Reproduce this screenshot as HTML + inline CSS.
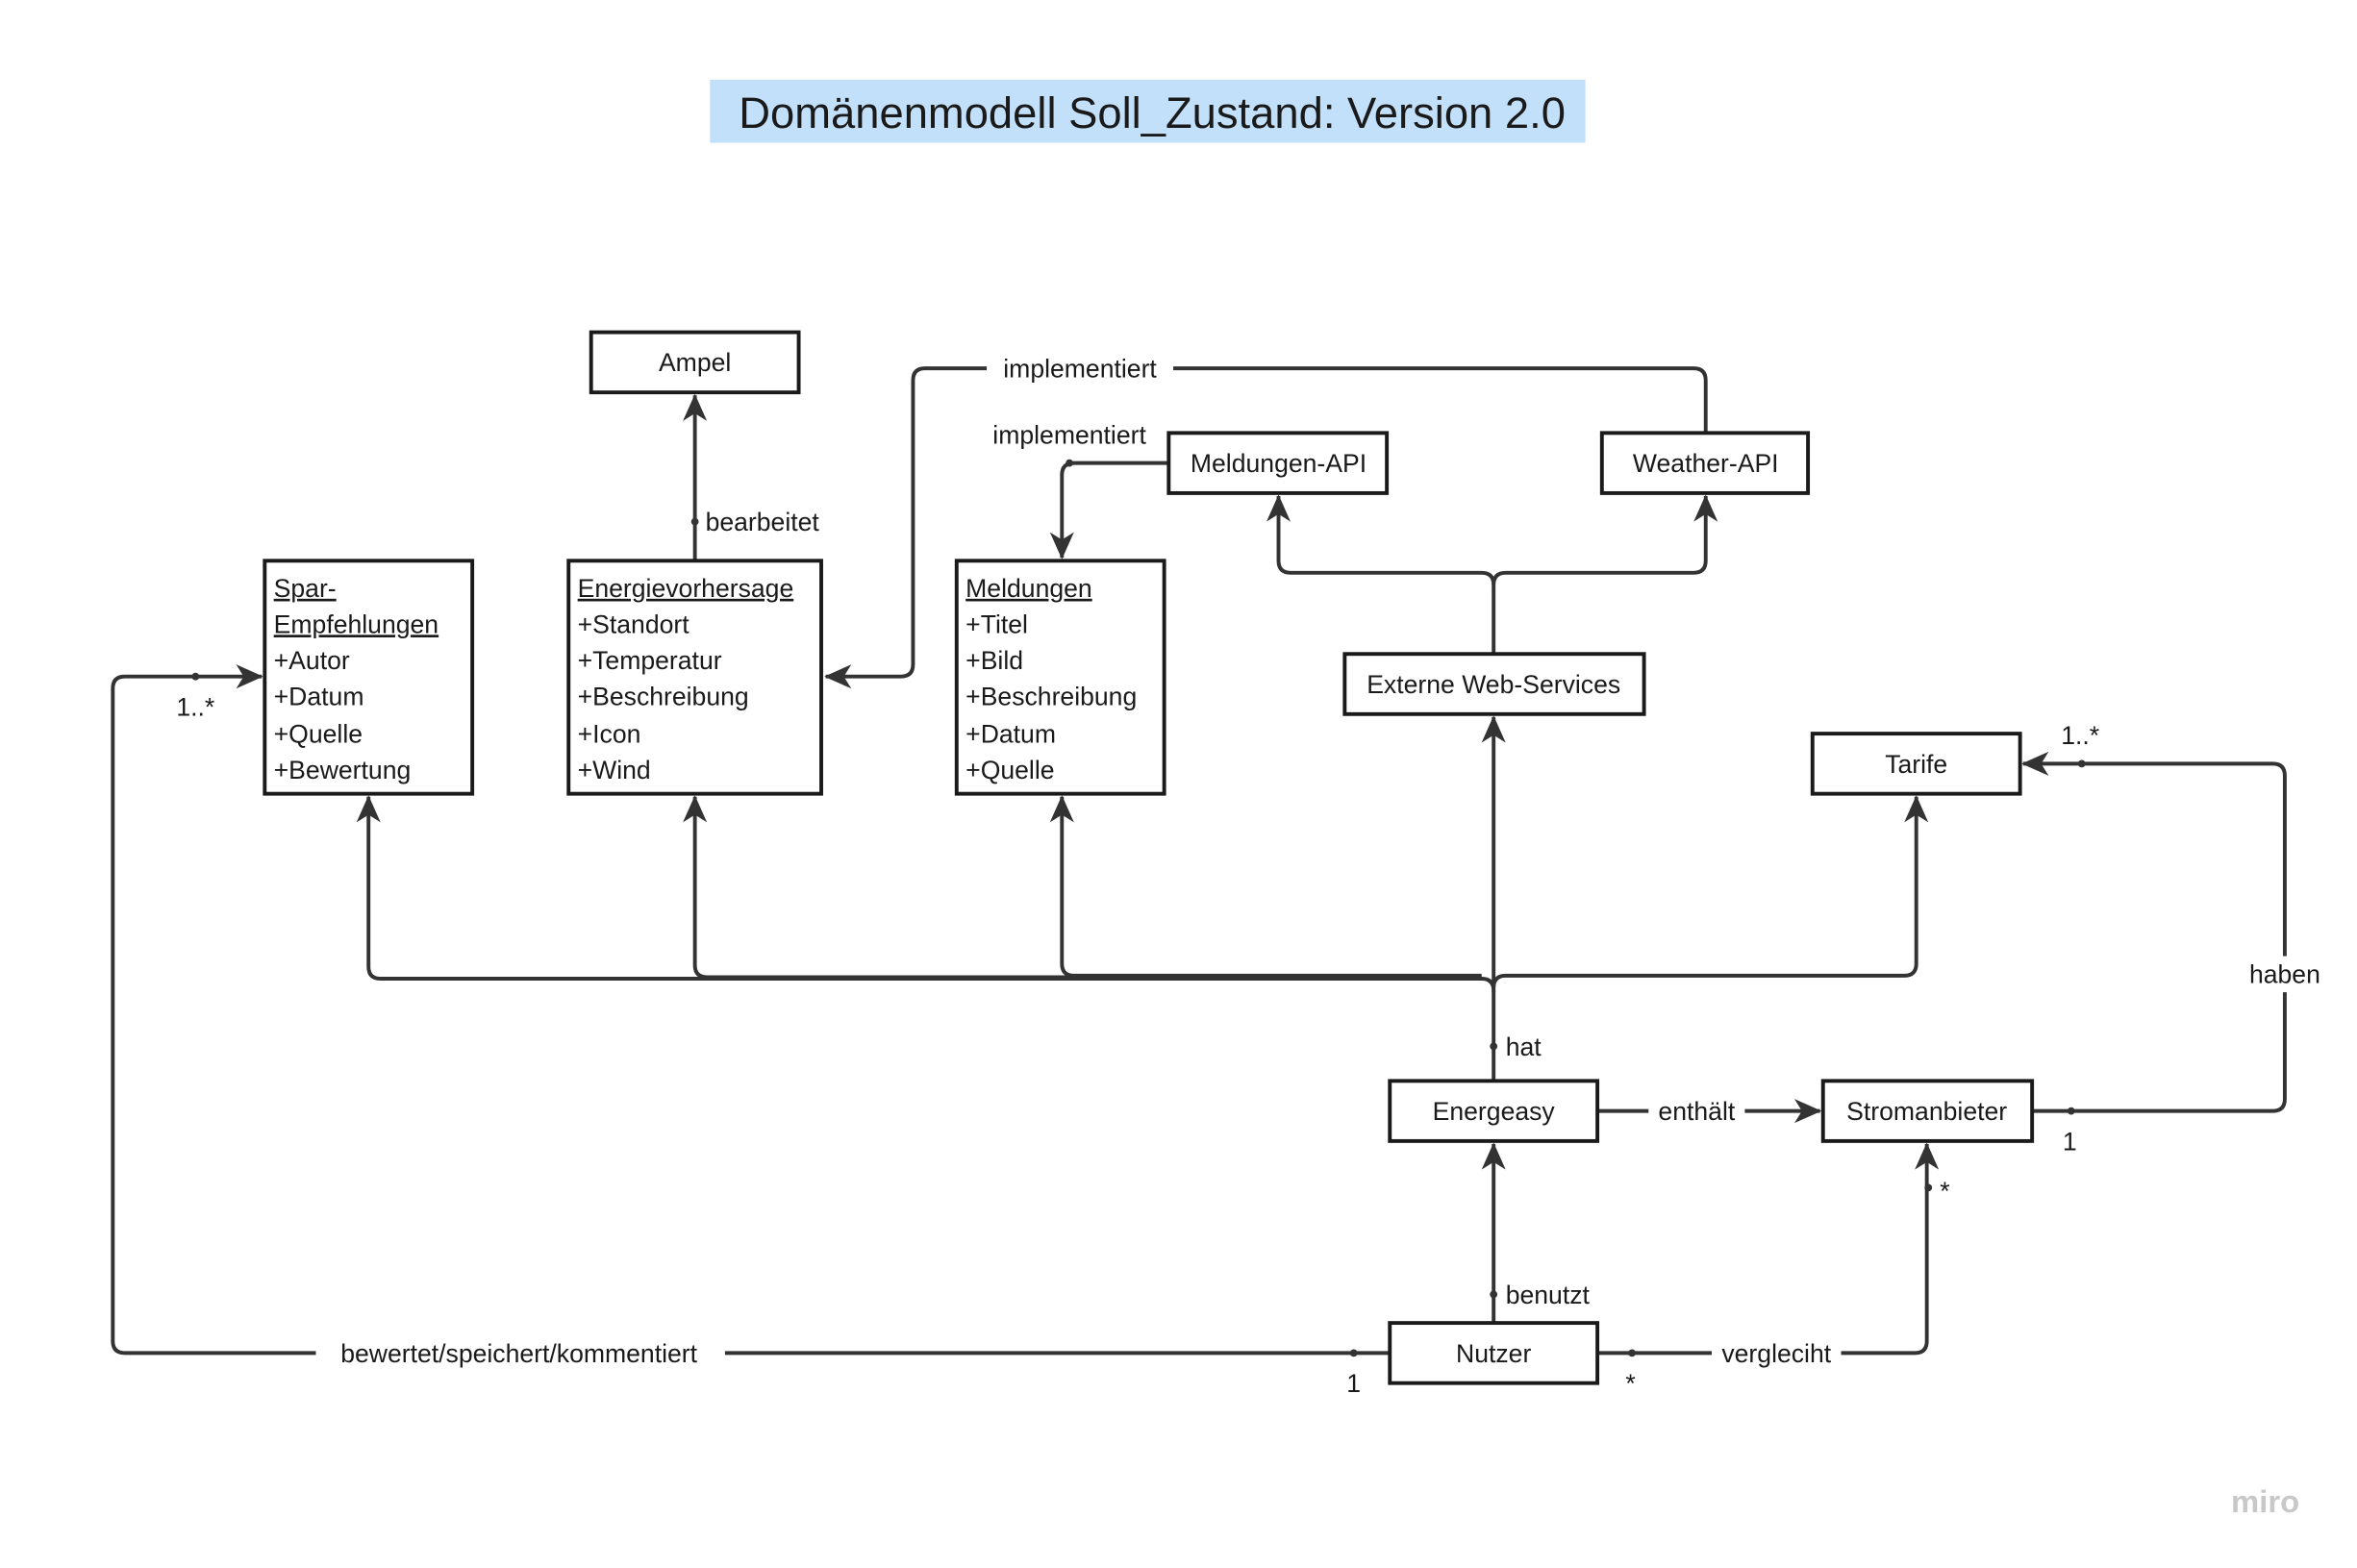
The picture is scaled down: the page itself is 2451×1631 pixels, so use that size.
<!DOCTYPE html>
<html><head><meta charset="utf-8"><style>
html,body{margin:0;padding:0;background:#fff;}
svg{display:block;}
text{font-family:"Liberation Sans",sans-serif;fill:#1a1a1a;}
</style></head><body>
<svg width="2451" height="1631" viewBox="0 0 1567 1043" preserveAspectRatio="none" xmlns="http://www.w3.org/2000/svg">
<defs>
<marker id="a" markerUnits="userSpaceOnUse" markerWidth="18" markerHeight="18" refX="17" refY="9" orient="auto">
<path d="M0,1 L18,9 L0,17 L5,9 z" fill="#333"/>
</marker>
</defs>
<rect width="1567" height="1043" fill="#fff"/>
<rect x="472" y="53" width="582" height="42" fill="#c3e0fb"/>
<text x="766" y="85" font-size="29" text-anchor="middle">Domänenmodell Soll_Zustand: Version 2.0</text>

<g fill="none" stroke="#333" stroke-width="2.5" stroke-linejoin="round">
<path d="M462,373 V263" marker-end="url(#a)"/>
<path d="M1134,288 V253 Q1134,245 1126,245 H615 Q607,245 607,253 V442 Q607,450 599,450 H549" marker-end="url(#a)"/>
<path d="M777,308 H714 Q706,308 706,316 V371" marker-end="url(#a)"/>
<path d="M993,435 V389 Q993,381 985,381 H858 Q850,381 850,373 V330" marker-end="url(#a)"/>
<path d="M993,389 Q993,381 1001,381 H1126 Q1134,381 1134,373 V330" marker-end="url(#a)"/>
<path d="M993,719 V659 Q993,651 985,651 H253 Q245,651 245,643 V530" marker-end="url(#a)"/>
<path d="M985,650 H470 Q462,650 462,642 V530" marker-end="url(#a)"/>
<path d="M985,649 H714 Q706,649 706,641 V530" marker-end="url(#a)"/>
<path d="M993,660 V477" marker-end="url(#a)"/>
<path d="M993,657 Q993,649 1001,649 H1266 Q1274,649 1274,641 V530" marker-end="url(#a)"/>
<path d="M1062,739 H1210" marker-end="url(#a)"/>
<path d="M1351,739 H1511 Q1519,739 1519,731 V516 Q1519,508 1511,508 H1345" marker-end="url(#a)"/>
<path d="M993,880 V761" marker-end="url(#a)"/>
<path d="M924,900 H83 Q75,900 75,892 V458 Q75,450 83,450 H174" marker-end="url(#a)"/>
<path d="M1062,900 H1273 Q1281,900 1281,892 V761" marker-end="url(#a)"/>
</g>
<g fill="#333">
<circle cx="462" cy="347" r="2.5"/><circle cx="711" cy="308" r="2.5"/>
<circle cx="993" cy="696" r="2.5"/><circle cx="993" cy="861" r="2.5"/>
<circle cx="1377" cy="739" r="2.5"/><circle cx="1384" cy="508" r="2.5"/>
<circle cx="900" cy="900" r="2.5"/><circle cx="130" cy="450" r="2.5"/>
<circle cx="1085" cy="900" r="2.5"/><circle cx="1282" cy="790" r="2.5"/>
</g>
<g fill="#fff">
<rect x="656" y="234" width="124" height="22"/>
<rect x="1096" y="728" width="64" height="22"/>
<rect x="1492" y="636" width="54" height="24"/>
<rect x="210" y="889" width="272" height="22"/>
<rect x="1138" y="889" width="86" height="22"/>
</g>
<g font-size="17">
<text x="718" y="251" text-anchor="middle">implementiert</text>
<text x="711" y="295" text-anchor="middle">implementiert</text>
<text x="469" y="353">bearbeitet</text>
<text x="1001" y="702">hat</text>
<text x="1128" y="745" text-anchor="middle">enthält</text>
<text x="1519" y="654" text-anchor="middle">haben</text>
<text x="1001" y="867">benutzt</text>
<text x="345" y="906" text-anchor="middle">bewertet/speichert/kommentiert</text>
<text x="1181" y="906" text-anchor="middle">vergleciht</text>
<text x="1376" y="765" text-anchor="middle">1</text>
<text x="1383" y="495" text-anchor="middle">1..*</text>
<text x="900" y="926" text-anchor="middle">1</text>
<text x="130" y="476" text-anchor="middle">1..*</text>
<text x="1084" y="926" text-anchor="middle">*</text>
<text x="1293" y="798" text-anchor="middle">*</text>
</g>
<g fill="#fff" stroke="#1a1a1a" stroke-width="2.5">
<rect x="393" y="221" width="138" height="40"/>
<rect x="176" y="373" width="138" height="155"/>
<rect x="378" y="373" width="168" height="155"/>
<rect x="636" y="373" width="138" height="155"/>
<rect x="777" y="288" width="145" height="40"/>
<rect x="1065" y="288" width="137" height="40"/>
<rect x="894" y="435" width="199" height="40"/>
<rect x="1205" y="488" width="138" height="40"/>
<rect x="924" y="719" width="138" height="40"/>
<rect x="1212" y="719" width="139" height="40"/>
<rect x="924" y="880" width="138" height="40"/>
</g>
<g font-size="17" text-anchor="middle">
<text x="462" y="247">Ampel</text>
<text x="850" y="314">Meldungen-API</text>
<text x="1134" y="314">Weather-API</text>
<text x="993" y="461">Externe Web-Services</text>
<text x="1274" y="514">Tarife</text>
<text x="993" y="745">Energeasy</text>
<text x="1281" y="745">Stromanbieter</text>
<text x="993" y="906">Nutzer</text>
</g>
<g font-size="17">
<text x="182" y="397" text-decoration="underline">Spar-</text>
<text x="182" y="421" text-decoration="underline">Empfehlungen</text>
<text x="182" y="445">+Autor</text>
<text x="182" y="469">+Datum</text>
<text x="182" y="494">+Quelle</text>
<text x="182" y="518">+Bewertung</text>
<text x="384" y="397" text-decoration="underline">Energievorhersage</text>
<text x="384" y="421">+Standort</text>
<text x="384" y="445">+Temperatur</text>
<text x="384" y="469">+Beschreibung</text>
<text x="384" y="494">+Icon</text>
<text x="384" y="518">+Wind</text>
<text x="642" y="397" text-decoration="underline">Meldungen</text>
<text x="642" y="421">+Titel</text>
<text x="642" y="445">+Bild</text>
<text x="642" y="469">+Beschreibung</text>
<text x="642" y="494">+Datum</text>
<text x="642" y="518">+Quelle</text>
</g>
<text x="1506" y="1006" font-size="21" text-anchor="middle" style="fill:#c8c8c8;font-weight:bold">miro</text>
</svg>
</body></html>
